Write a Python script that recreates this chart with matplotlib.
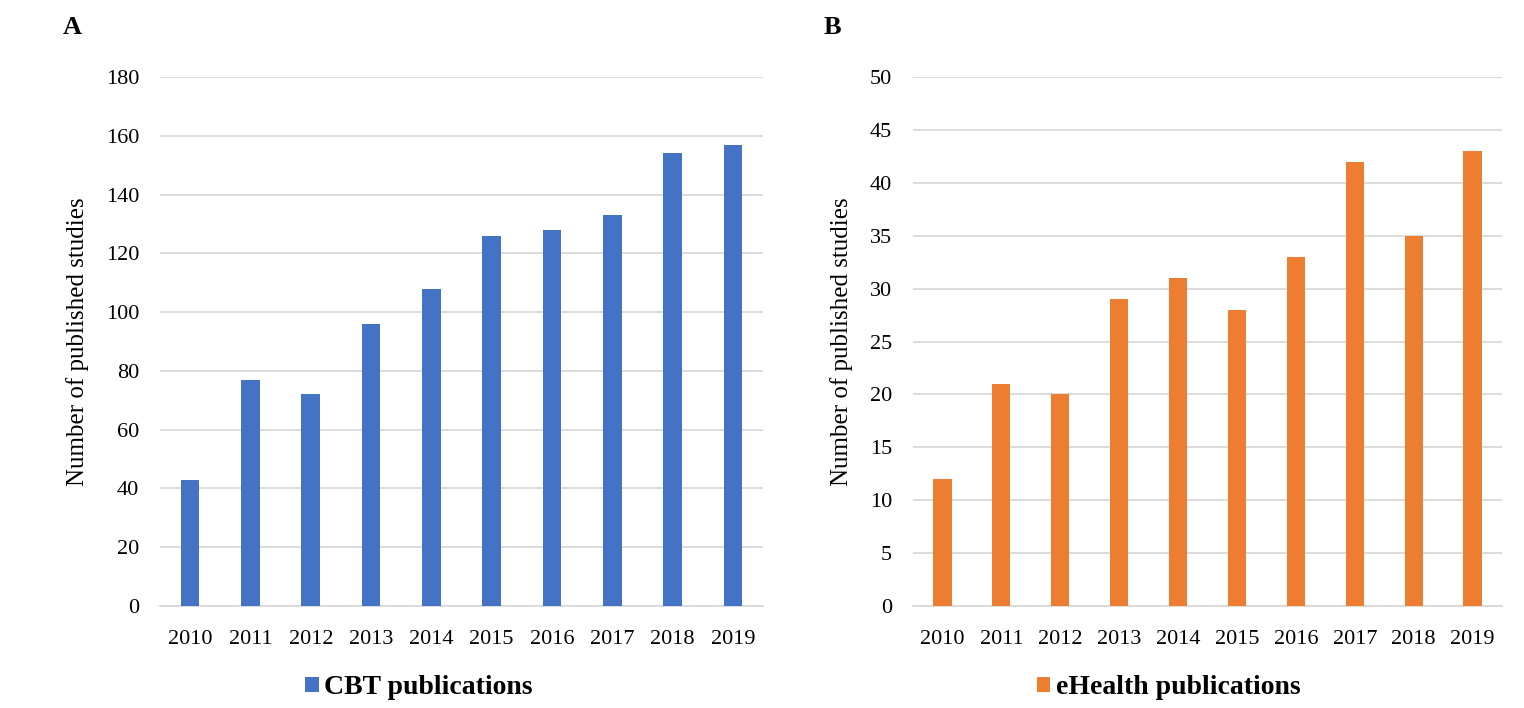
import matplotlib
matplotlib.use("Agg")
import matplotlib.pyplot as plt
from matplotlib.patches import Patch

years = ["2010", "2011", "2012", "2013", "2014", "2015", "2016", "2017", "2018", "2019"]
cbt_values = [43, 77, 72, 96, 108, 126, 128, 133, 154, 157]
ehealth_values = [12, 21, 20, 29, 31, 28, 33, 42, 35, 43]
cbt_ticks = list(range(0, 181, 20))
ehealth_ticks = list(range(0, 51, 5))

plt.rcParams['font.family'] = ['Liberation Serif', 'DejaVu Serif']

fig = plt.figure(figsize=(15.24, 7.08), dpi=100)
W, H = 1524, 708

def make_ax(x0, x1, y0, y1):
    return fig.add_axes([x0 / W, 1 - y1 / H, (x1 - x0) / W, (y1 - y0) / H])

axA = make_ax(160, 763, 77, 606)
axB = make_ax(913, 1502, 77, 606)

panels = [
    (axA, cbt_values, cbt_ticks, "#4472C4", "CBT publications", "A", 72, -0.118, 419),
    (axB, ehealth_values, ehealth_ticks, "#ED7D31", "eHealth publications", "B", 832, -0.102, 1169),
]

for ax, vals, ticks, color, label, letter, lx, ylx, legx in panels:
    x = list(range(len(years)))
    ax.bar(x, vals, width=0.31, color=color, zorder=3)
    ax.set_xlim(-0.5, len(years) - 0.5)
    ax.set_ylim(ticks[0], ticks[-1])
    ax.set_yticks(ticks)
    ax.set_xticks(x)
    ax.set_xticklabels(years)
    ax.grid(axis='y', color='#D9D9D9', linewidth=1.3, zorder=0)
    for s in ['top', 'right', 'left']:
        ax.spines[s].set_visible(False)
    ax.spines['bottom'].set_color('#D9D9D9')
    ax.spines['bottom'].set_linewidth(1.3)
    ax.tick_params(axis='both', length=0, labelsize=16, colors='#000000')
    ax.tick_params(axis='x', pad=17)
    ax.tick_params(axis='y', pad=15)
    ax.set_ylabel("Number of published studies", fontsize=18)
    ax.yaxis.set_label_coords(ylx, 0.5)
    fig.legend(handles=[Patch(facecolor=color, label=label)], loc='center',
               bbox_to_anchor=(legx / W, 1 - 688 / H), frameon=False,
               prop={'size': 20, 'weight': 'bold'}, handlelength=0.47, handleheight=0.47,
               handletextpad=0.2, borderpad=0, borderaxespad=0)
    fig.text(lx / W, 1 - 27 / H, letter, fontsize=19, fontweight='bold',
             ha='center', va='center')

fig.savefig("out.png", dpi=100, facecolor='white')
